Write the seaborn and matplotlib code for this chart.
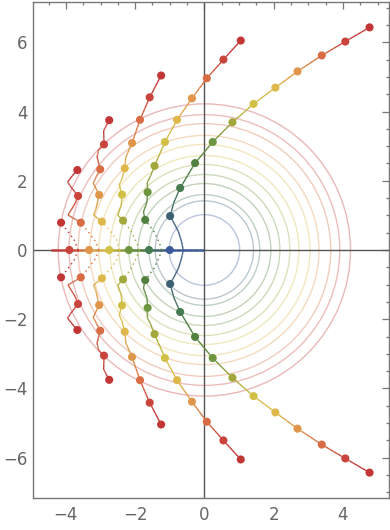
import numpy as np
import matplotlib
matplotlib.use("Agg")
import matplotlib.pyplot as plt
from matplotlib.collections import LineCollection
from matplotlib.colors import LinearSegmentedColormap
from matplotlib.patches import Circle
from matplotlib.ticker import MultipleLocator
import pandas as pd
import seaborn as sns

# colours by step index 0..11 (blue -> red)
step_colors = ['#3c5a9a', '#3d6075', '#467a50', '#52803e', '#6e9540', '#a2a83c',
               '#d2c046', '#dfb84c', '#e0964a', '#d86c44', '#c8443c', '#c23636']

# circle radii, one per step index
radii = [1.02, 1.42, 1.60, 1.92, 2.18, 2.47, 2.73, 3.05, 3.31, 3.65, 3.91, 4.22]

# points on the negative x axis (indices 0, 2, 4, 6, 8, 10)
axis_x = [-1.0, -1.6, -2.18, -2.75, -3.33, -3.9]
axis_idx = [0, 2, 4, 6, 8, 10]

# horizontal coloured line along y = 0
hline_x = [0.0, -1.0, -1.6, -2.18, -2.75, -3.33, -3.9, -4.42]
hline_c = [0, 0, 2, 4, 6, 8, 10, 11]

# marker points of each branch (upper half), with their step index
pts_a_x = [-0.99, -0.70, -0.27, 0.24, 0.81, 1.42, 2.05, 2.69, 3.39, 4.07, 4.77]
pts_a_y = [0.98, 1.79, 2.51, 3.12, 3.69, 4.22, 4.69, 5.16, 5.62, 6.02, 6.43]
pts_b_x = [-1.71, -1.64, -1.44, -1.14, -0.79, -0.36, 0.07, 0.55, 1.05]
pts_b_y = [0.87, 1.67, 2.43, 3.12, 3.76, 4.38, 4.96, 5.50, 6.05]
pts_c_x = [-2.35, -2.38, -2.30, -2.09, -1.86, -1.58, -1.25]
pts_c_y = [0.85, 1.60, 2.36, 3.09, 3.76, 4.41, 5.04]
pts_d_x = [-2.96, -3.04, -3.01, -2.90, -2.75]
pts_d_y = [0.82, 1.59, 2.33, 3.05, 3.75]
pts_e_x = [-3.57, -3.65, -3.67]
pts_e_y = [0.79, 1.56, 2.31]
pts_f_x = [-4.14]
pts_f_y = [0.79]

# traced paths (upper half): x, y, colour index
path_a_x = [-0.61, -0.66, -0.75, -0.90, -0.99, -0.88, -0.70, -0.27, 0.24, 0.81, 1.42, 2.05, 2.69, 3.39, 4.07, 4.77]
path_a_y = [0.00, 0.24, 0.53, 0.82, 0.98, 1.38, 1.79, 2.51, 3.12, 3.69, 4.22, 4.69, 5.16, 5.62, 6.02, 6.43]
path_a_c = [0.4, 0.6, 0.8, 0.9, 1, 1.5, 2, 3, 4, 5, 6, 7, 8, 9, 10, 11]

path_b_x = [-1.71, -1.76, -1.66, -1.64, -1.65, -1.55, -1.44, -1.14, -0.79, -0.36, 0.07, 0.55, 1.05]
path_b_y = [0.87, 1.10, 1.38, 1.67, 1.95, 2.15, 2.43, 3.12, 3.76, 4.38, 4.96, 5.50, 6.05]
path_b_c = [3, 3.3, 3.6, 4, 4.4, 4.7, 5, 6, 7, 8, 9, 10, 11]

path_c_x = [-2.35, -2.50, -2.40, -2.38, -2.46, -2.38, -2.30, -2.27, -2.09, -1.86, -1.58, -1.25]
path_c_y = [0.85, 1.01, 1.30, 1.60, 1.88, 2.06, 2.36, 2.68, 3.09, 3.76, 4.41, 5.04]
path_c_c = [5, 5.3, 5.7, 6, 6.4, 6.6, 7, 7.5, 8, 9, 10, 11]

path_d_x = [-2.96, -3.20, -3.13, -3.04, -3.21, -3.14, -3.01, -3.10, -3.06, -2.90, -2.91, -2.84, -2.75]
path_d_y = [0.82, 1.01, 1.20, 1.59, 1.94, 2.08, 2.33, 2.69, 2.88, 3.06, 3.44, 3.58, 3.75]
path_d_c = [7, 7.3, 7.6, 8, 8.4, 8.6, 9, 9.5, 9.7, 10, 10.5, 10.7, 11]

path_e_x = [-3.57, -3.75, -3.94, -3.73, -3.65, -3.86, -3.95, -3.68]
path_e_y = [0.79, 0.90, 1.01, 1.35, 1.56, 1.83, 1.97, 2.31]
path_e_c = [9, 9.2, 9.4, 9.7, 10, 10.4, 10.6, 11]

# dotted lower legs of the branches (from first point down to y = 0)
low_b_x = [-1.23, -1.30, -1.45, -1.62, -1.71]
low_b_y = [0.00, 0.20, 0.52, 0.75, 0.87]
low_c_x = [-1.88, -1.95, -2.12, -2.35]
low_c_y = [0.00, 0.20, 0.55, 0.85]
low_d_x = [-2.45, -2.53, -2.72, -2.96]
low_d_y = [0.00, 0.29, 0.55, 0.82]
low_e_x = [-3.05, -3.14, -3.35, -3.57]
low_e_y = [0.00, 0.24, 0.52, 0.79]
low_f_x = [-3.65, -3.76, -3.95, -4.14]
low_f_y = [0.00, 0.29, 0.55, 0.79]

cmap = LinearSegmentedColormap.from_list("steps", step_colors)


def grad_line(ax, xs, ys, cs, lw=1.0, ls='-', z=3):
    segs, cols = [], []
    for i in range(len(xs) - 1):
        for t0, t1 in zip(np.linspace(0, 1, 7)[:-1], np.linspace(0, 1, 7)[1:]):
            p0 = (xs[i] + (xs[i + 1] - xs[i]) * t0, ys[i] + (ys[i + 1] - ys[i]) * t0)
            p1 = (xs[i] + (xs[i + 1] - xs[i]) * t1, ys[i] + (ys[i + 1] - ys[i]) * t1)
            segs.append([p0, p1])
            cm = cs[i] + (cs[i + 1] - cs[i]) * (t0 + t1) / 2
            cols.append(cmap(cm / 11.0))
    ax.add_collection(LineCollection(segs, colors=cols, linewidths=lw, linestyles=ls, zorder=z))


sns.set_theme(style="white")

fig = plt.figure(figsize=(3.9, 5.3), dpi=100)
ax = fig.add_axes([32.5 / 390, 32 / 530, 356.5 / 390, 496 / 530])

# faint concentric circles
for r, col in zip(radii, step_colors):
    ax.add_patch(Circle((0, 0), r, fill=False, ec=col, alpha=0.35, lw=1.0, zorder=1))

# axes through the origin
ax.axhline(0, color='#555555', lw=1.0, zorder=2)
ax.axvline(0, color='#555555', lw=1.0, zorder=2)

# coloured line on the negative x axis
grad_line(ax, hline_x, [0] * len(hline_x), hline_c, lw=1.8, z=3)

paths = [(path_a_x, path_a_y, path_a_c), (path_b_x, path_b_y, path_b_c),
         (path_c_x, path_c_y, path_c_c), (path_d_x, path_d_y, path_d_c),
         (path_e_x, path_e_y, path_e_c)]
for sgn in (1, -1):
    for px, py, pc in paths:
        grad_line(ax, px, [sgn * v for v in py], pc, lw=1.0)
    for lx, ly, lc in [(low_b_x, low_b_y, 3), (low_c_x, low_c_y, 5), (low_d_x, low_d_y, 7),
                       (low_e_x, low_e_y, 9), (low_f_x, low_f_y, 11)]:
        ax.plot(lx, [sgn * v for v in ly], ls=(0, (1, 2.5)), lw=1.0,
                color=step_colors[lc], zorder=3)

# marker points
rows = []
for xs, ys, start in [(pts_a_x, pts_a_y, 1), (pts_b_x, pts_b_y, 3), (pts_c_x, pts_c_y, 5),
                      (pts_d_x, pts_d_y, 7), (pts_e_x, pts_e_y, 9), (pts_f_x, pts_f_y, 11)]:
    for k, (x, y) in enumerate(zip(xs, ys)):
        rows.append((x, y, start + k))
        rows.append((x, -y, start + k))
for x, k in zip(axis_x, axis_idx):
    rows.append((x, 0.0, k))
df = pd.DataFrame(rows, columns=["x", "y", "step"])
sns.scatterplot(data=df, x="x", y="y", hue="step", palette=dict(enumerate(step_colors)),
                s=34, edgecolor='none', legend=False, ax=ax, zorder=4)

ax.set_xlim(-4.965, 5.332)
ax.set_ylim(-7.163, 7.163)
ax.set_xlabel("")
ax.set_ylabel("")
ax.xaxis.set_major_locator(MultipleLocator(2))
ax.xaxis.set_minor_locator(MultipleLocator(0.5))
ax.yaxis.set_major_locator(MultipleLocator(2))
ax.yaxis.set_minor_locator(MultipleLocator(0.5))
ax.tick_params(which='both', direction='in', top=True, right=True, color='#777777', width=0.9)
ax.tick_params(which='major', length=5, labelsize=12, labelcolor='#666666')
ax.tick_params(which='minor', length=2.5)
ax.tick_params(axis='x', which='major', pad=6)
ax.tick_params(axis='y', which='major', pad=3.5)
for sp in ax.spines.values():
    sp.set_color('#777777')
    sp.set_linewidth(1.0)

fig.savefig("out.png", dpi=100)
